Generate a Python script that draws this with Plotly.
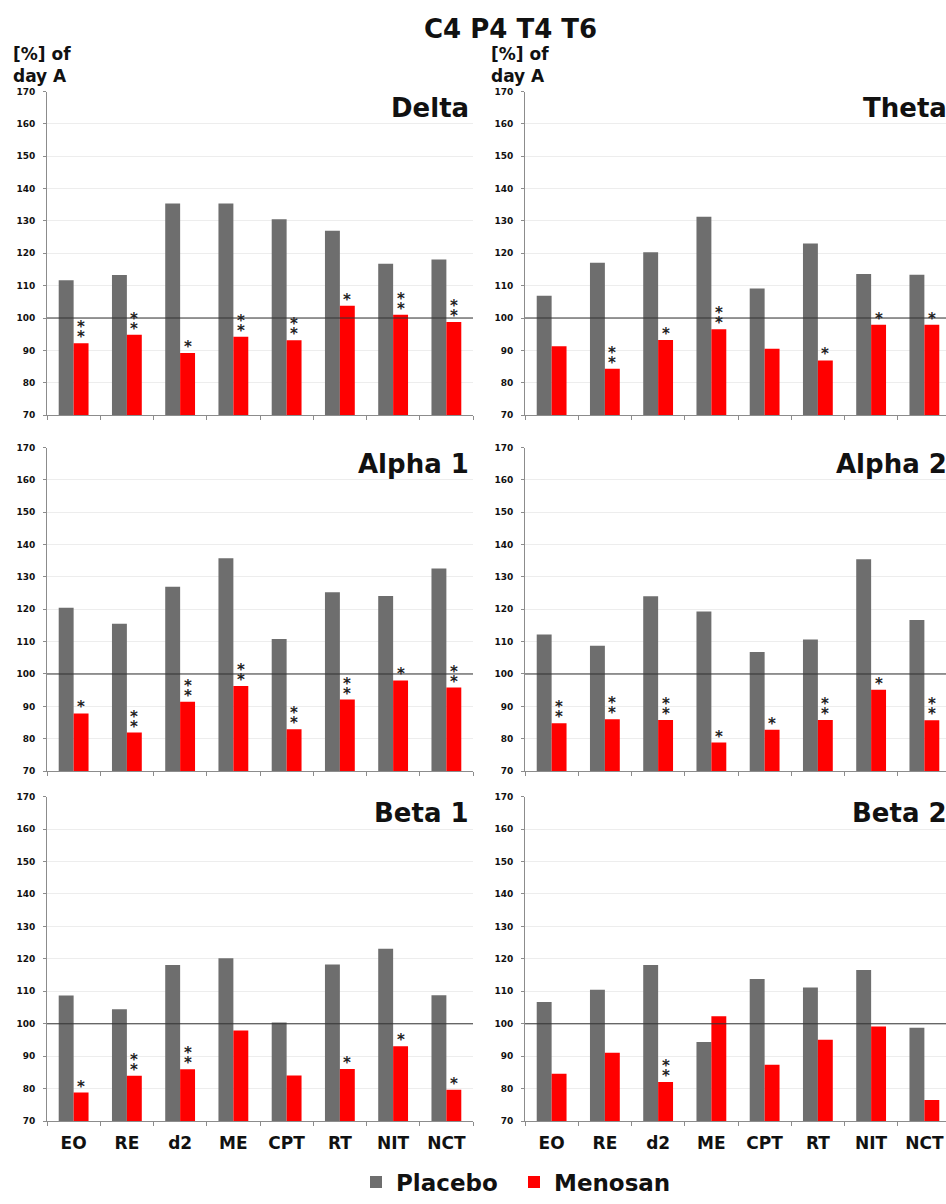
import plotly.graph_objects as go

# ---------------- data ----------------
categories = ["EO", "RE", "d2", "ME", "CPT", "RT", "NIT", "NCT"]
bands = ["Delta", "Theta", "Alpha 1", "Alpha 2", "Beta 1", "Beta 2"]

placebo_delta = [111.7, 113.3, 135.4, 135.4, 130.5, 127.0, 116.8, 118.1]
menosan_delta = [92.2, 94.8, 89.2, 94.2, 93.1, 103.8, 101.0, 98.8]
stars_delta = [2, 2, 1, 2, 2, 1, 2, 2]

placebo_theta = [106.9, 117.1, 120.3, 131.3, 109.1, 123.0, 113.6, 113.4]
menosan_theta = [91.3, 84.3, 93.2, 96.5, 90.5, 86.9, 97.9, 97.9]
stars_theta = [0, 2, 1, 2, 0, 1, 1, 1]

placebo_alpha1 = [120.5, 115.5, 127.0, 135.8, 110.8, 125.3, 124.1, 132.6]
menosan_alpha1 = [87.8, 81.9, 91.4, 96.3, 82.9, 92.1, 98.0, 95.8]
stars_alpha1 = [1, 2, 2, 2, 2, 2, 1, 2]

placebo_alpha2 = [112.2, 108.7, 124.0, 119.3, 106.8, 110.7, 135.5, 116.7]
menosan_alpha2 = [84.8, 86.0, 85.8, 78.8, 82.8, 85.8, 95.1, 85.7]
stars_alpha2 = [2, 2, 2, 1, 1, 2, 1, 2]

placebo_beta1 = [108.7, 104.5, 118.1, 120.2, 100.4, 118.3, 123.1, 108.8]
menosan_beta1 = [78.8, 84.0, 86.0, 97.9, 84.1, 86.1, 93.1, 79.7]
stars_beta1 = [1, 2, 2, 0, 0, 1, 1, 1]

placebo_beta2 = [106.7, 110.5, 118.1, 94.4, 113.8, 111.2, 116.6, 98.8]
menosan_beta2 = [84.6, 91.1, 82.1, 102.3, 87.4, 95.1, 99.2, 76.5]
stars_beta2 = [0, 0, 2, 0, 0, 0, 0, 0]

y_ticks = [70, 80, 90, 100, 110, 120, 130, 140, 150, 160, 170]

panels = [
    (placebo_delta, menosan_delta, stars_delta),
    (placebo_theta, menosan_theta, stars_theta),
    (placebo_alpha1, menosan_alpha1, stars_alpha1),
    (placebo_alpha2, menosan_alpha2, stars_alpha2),
    (placebo_beta1, menosan_beta1, stars_beta1),
    (placebo_beta2, menosan_beta2, stars_beta2),
]

# ---------------- style / layout ----------------
W, H = 946, 1204
GRAY = "#6e6e6e"
RED = "#ff0000"
FONT = "DejaVu Sans"
BARGAP = 0.44
cols = [(47, 473), (525, 946)]
rows = [(88, 417), (450, 779), (805, 1135)]
CAT_PX = (473 - 47) / 8.0
x_ranges = [[-0.5, 7.5], [-0.5, -0.5 + (946 - 525) / CAT_PX]]


def px(x):
    return x / W


def py(y):
    return 1 - y / H


fig = go.Figure()
annotations = []
shapes = []
layout_axes = {}

for i, (plac, meno, stars) in enumerate(panels):
    r, c = divmod(i, 2)
    k = i + 1
    sfx = "" if k == 1 else str(k)
    xa, ya = "x" + sfx, "y" + sfx
    fig.add_trace(go.Bar(x=categories, y=plac, name="Placebo", marker_color=GRAY,
                         marker_line_width=0, xaxis=xa, yaxis=ya,
                         showlegend=(i == 0), legendgroup="p", hoverinfo="skip"))
    fig.add_trace(go.Bar(x=categories, y=meno, name="Menosan", marker_color=RED,
                         marker_line_width=0, xaxis=xa, yaxis=ya,
                         showlegend=(i == 0), legendgroup="m", hoverinfo="skip"))

    x0, x1 = cols[c]
    y0, y1 = rows[r]
    layout_axes["xaxis" + sfx] = dict(
        domain=[px(x0), px(x1)], anchor=ya, type="category",
        categoryorder="array", categoryarray=categories,
        range=x_ranges[c], showline=True, linecolor="#8c8c8c", linewidth=1,
        ticks="outside", tickson="boundaries", ticklen=4, tickcolor="#8c8c8c",
        showgrid=False, showticklabels=(r == 2), ticklabelstandoff=6,
        tickfont=dict(family=FONT, size=17, color="#111", weight="bold"),
        fixedrange=True,
    )
    layout_axes["yaxis" + sfx] = dict(
        domain=[py(y1), py(y0)], anchor=xa, range=[70, 170],
        tickvals=y_ticks, showline=True, linecolor="#8c8c8c", linewidth=1,
        ticks="outside", ticklen=3, tickcolor="#8c8c8c",
        showgrid=True, gridcolor="#ededed", gridwidth=1, zeroline=False,
        tickfont=dict(family=FONT, size=9, color="#111", weight="bold"),
        ticklabelstandoff=6, fixedrange=True,
    )
    # 100 % reference line
    shapes.append(dict(type="line", xref=f"{xa} domain", yref=ya, x0=0, x1=1,
                       y0=100, y1=100, line=dict(color="#333333", width=1),
                       layer="above"))
    # panel title
    annotations.append(dict(
        text=bands[i], xref="paper", yref="paper",
        x=px(471 if c == 0 else 949), xanchor="right",
        y=py(y0 + 17), yanchor="middle", showarrow=False,
        font=dict(family=FONT, size=26, color="#111", weight="bold")))
    # significance stars above Menosan bars
    red_off = (1 - BARGAP) / 4.0
    for j, n in enumerate(stars):
        for s in range(n):
            annotations.append(dict(
                text="*", xref=xa, yref=ya, x=j + red_off, y=meno[j],
                xanchor="center", yanchor="bottom", yshift=-4 + 10 * s,
                showarrow=False, borderpad=0,
                font=dict(family=FONT, size=15, color="#222", weight="bold")))

# y unit labels
for c, lx in enumerate([11, 489]):
    annotations.append(dict(
        text="[%] of<br>day A", xref="paper", yref="paper", x=px(lx), xanchor="left",
        y=py(61), yanchor="middle", showarrow=False, align="left",
        font=dict(family=FONT, size=17, color="#111", weight="bold")))

# main title
annotations.append(dict(
    text="C4 P4 T4 T6", xref="paper", yref="paper", x=px(510), xanchor="center",
    y=py(24), yanchor="middle", showarrow=False,
    font=dict(family=FONT, size=26, color="#111", weight="bold")))

fig.update_layout(
    width=W, height=H, margin=dict(l=0, r=0, t=0, b=0),
    paper_bgcolor="white", plot_bgcolor="white",
    barmode="group", bargap=BARGAP, bargroupgap=0,
    annotations=annotations, shapes=shapes,
    legend=dict(orientation="h", x=px(514), xanchor="center", y=py(1197), yanchor="middle",
                font=dict(family=FONT, size=23, color="#111", weight="bold"),
                itemsizing="constant", traceorder="normal", entrywidth=113),
    **layout_axes,
)

fig.write_html(
    "out.html",
    config={"displayModeBar": False},
    post_script="document.body.style.margin='0px';document.body.style.overflow='hidden';",
)
